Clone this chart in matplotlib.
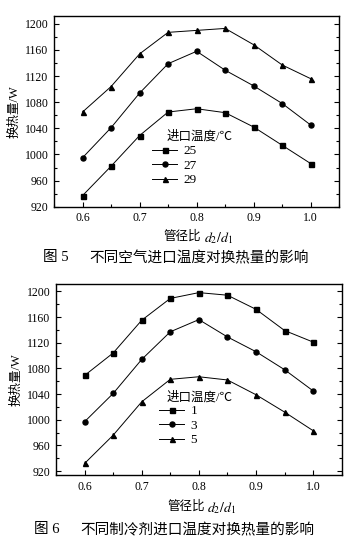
import matplotlib
matplotlib.use('Agg')
import matplotlib.pyplot as plt
from matplotlib.ticker import MultipleLocator

plt.rcParams['font.family'] = ['Liberation Serif', 'Noto Sans CJK SC']
plt.rcParams['mathtext.fontset'] = 'stix'

# pipe diameter ratio d2/d1
ratio = [0.6, 0.65, 0.7, 0.75, 0.8, 0.85, 0.9, 0.95, 1.0]

# fig 5: air inlet temperature
air_labels = ['25', '27', '29']
air_25 = [937, 982, 1029, 1065, 1070, 1064, 1042, 1014, 986]
air_27 = [995, 1041, 1094, 1139, 1158, 1129, 1105, 1078, 1045]
air_29 = [1065, 1104, 1154, 1187, 1190, 1193, 1168, 1137, 1116]

# fig 6: refrigerant inlet temperature
ref_labels = ['1', '3', '5']
ref_1 = [1069, 1104, 1155, 1189, 1198, 1194, 1172, 1139, 1121]
ref_3 = [997, 1041, 1094, 1137, 1156, 1129, 1106, 1078, 1045]
ref_5 = [932, 976, 1028, 1063, 1067, 1062, 1039, 1012, 983]

markers = ['s', 'o', '^']

W, H = 360, 547
fig = plt.figure(figsize=(W / 100, H / 100), dpi=100)
fig.patch.set_facecolor('white')


def px(x, y):
    # pixel coords (top-left origin) -> figure fraction
    return x / W, 1 - y / H


def draw(ax, series, labels, ylim, leg_anchor, title_xy):
    for vals, lab, m in zip(series, labels, markers):
        ax.plot(ratio, vals, color='black', lw=0.7, marker=m, markersize=3.6,
                markerfacecolor='black', markeredgecolor='black', label=lab)
    ax.set_xlim(0.55, 1.05)
    ax.set_ylim(*ylim)
    ax.xaxis.set_minor_locator(MultipleLocator(0.05))
    ax.yaxis.set_major_locator(MultipleLocator(40))
    ax.yaxis.set_minor_locator(MultipleLocator(20))
    ax.set_xticks([0.6, 0.7, 0.8, 0.9, 1.0])
    ax.set_xticklabels(['0.6', '0.7', '0.8', '0.9', '1.0'])
    ax.tick_params(which='both', direction='in', right=True, top=False,
                   labelsize=8.5, width=0.8)
    ax.tick_params(which='major', length=3.5, pad=4)
    ax.tick_params(which='minor', length=2.5)
    for sp in ax.spines.values():
        sp.set_linewidth(1.0)
    ax.set_ylabel('换热量/W', fontsize=9, labelpad=3)
    ax.legend(loc='upper left', bbox_to_anchor=leg_anchor, frameon=False,
              fontsize=9.5, handlelength=1.9, handletextpad=0.5,
              labelspacing=0.18, borderpad=0, borderaxespad=0)
    ax.text(title_xy[0], title_xy[1], '进口温度/℃', transform=ax.transAxes,
            fontsize=9, ha='left', va='center')


# figure 5
ax1 = fig.add_axes([0.15, 0.6221, 0.7925, 0.3486])
draw(ax1, [air_25, air_27, air_29], air_labels, (920, 1212),
     ((152 - 54) / 285.3, (206.7 - 145) / 190.7),
     ((167 - 54) / 285.3, (206.7 - 136) / 190.7))
fig.text(*px(163, 237), '管径比', fontsize=9, ha='left', va='center')
fig.text(*px(204, 238), '$d_2/d_1$', fontsize=10, ha='left', va='center')
fig.text(*px(43, 258), '图 5', fontsize=10.5, ha='left', va='center')
fig.text(*px(89, 258), '不同空气进口温度对换热量的影响', fontsize=10.5,
         ha='left', va='center')

# figure 6
ax2 = fig.add_axes([0.1556, 0.1316, 0.7936, 0.3487])
draw(ax2, [ref_1, ref_3, ref_5], ref_labels, (914, 1211),
     ((159 - 56) / 285.7, (475 - 405) / 190.7),
     ((167 - 56) / 285.7, (475 - 397) / 190.7))
fig.text(*px(167, 507), '管径比', fontsize=9, ha='left', va='center')
fig.text(*px(207, 508), '$d_2/d_1$', fontsize=10, ha='left', va='center')
fig.text(*px(34, 530), '图 6', fontsize=10.5, ha='left', va='center')
fig.text(*px(80, 530), '不同制冷剂进口温度对换热量的影响', fontsize=10.5,
         ha='left', va='center')

fig.savefig('out.png', dpi=100, facecolor='white')
